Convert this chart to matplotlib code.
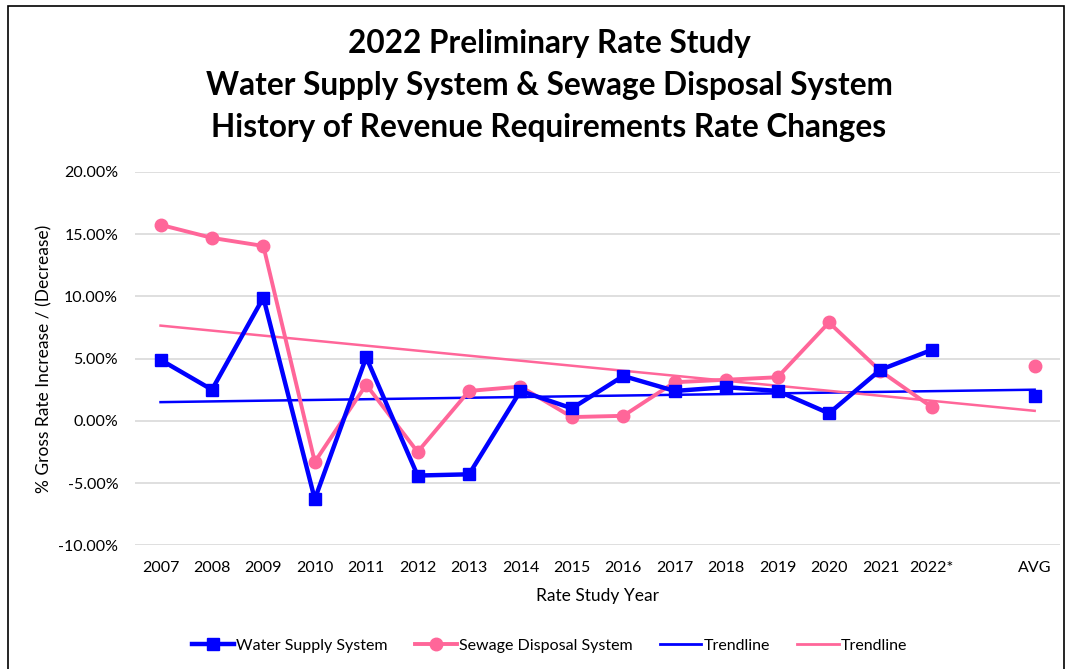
import numpy as np
import matplotlib.pyplot as plt
from matplotlib.patches import Rectangle

years = ["2007", "2008", "2009", "2010", "2011", "2012", "2013", "2014", "2015",
         "2016", "2017", "2018", "2019", "2020", "2021", "2022*", "", "AVG"]

# % change per rate study year (last two: blank slot, then average)
water = [4.9, 2.5, 9.9, -6.3, 5.1, -4.4, -4.3, 2.4, 1.0, 3.6, 2.4, 2.7, 2.4, 0.6, 4.1, 5.7]
water_avg = 2.0
sewage = [15.75, 14.7, 14.05, -3.3, 2.9, -2.5, 2.4, 2.75, 0.3, 0.4, 3.1, 3.3, 3.5, 7.9, 4.0, 1.1]
sewage_avg = 4.4

# trendline end values (first and last category)
water_trend = [1.5, 2.5]
sewage_trend = [7.65, 0.8]

blue = "#0000FF"
pink = "#FF6699"

plt.rcParams['font.family'] = ['Lato', 'DejaVu Sans']

fig = plt.figure(figsize=(10.7, 6.69), dpi=100)
ax = fig.add_axes([0.126, 0.185, 0.865, 0.558])

x = np.arange(len(years))
xw = x[:len(water)]

ax.plot([x[0], x[-1]], water_trend, color=blue, lw=1.8, zorder=2)
ax.plot([x[0], x[-1]], sewage_trend, color=pink, lw=1.8, zorder=2)

ax.plot(xw, sewage, color=pink, lw=2.8, marker="o", markersize=9, zorder=3)
ax.plot(x[-1], sewage_avg, color=pink, marker="o", markersize=9, ls="none", zorder=3)
ax.plot(xw, water, color=blue, lw=3.2, marker="s", markersize=8, zorder=4)
ax.plot(x[-1], water_avg, color=blue, marker="s", markersize=8, ls="none", zorder=4)

ax.set_xlim(-0.5, 17.5)
ax.set_ylim(-10, 20)
ax.set_yticks(np.arange(-10, 21, 5))
ax.set_yticklabels([f"{v:.2f}%" for v in np.arange(-10, 21, 5)], fontsize=11.5)
ax.set_xticks(x)
ax.set_xticklabels(years, fontsize=11.5)
ax.tick_params(axis="x", length=0, pad=11)
ax.tick_params(axis="y", length=0, pad=12)
ax.grid(axis="y", color="#D9D9D9", lw=1.2)
ax.set_axisbelow(True)
for s in ax.spines.values():
    s.set_visible(False)

ax.set_xlabel("Rate Study Year", fontsize=12.5, labelpad=10)
ax.set_ylabel("% Gross Rate Increase / (Decrease)", fontsize=12.5, labelpad=4)

titles = ["2022 Preliminary Rate Study",
          "Water Supply System & Sewage Disposal System",
          "History of Revenue Requirements Rate Changes"]
for i, t in enumerate(titles):
    fig.text(549 / 1070, 1 - (43 + 42 * i) / 669, t, ha="center", va="center",
             fontsize=22.7, fontweight="bold")

h1, = ax.plot([], [], color=blue, lw=3.2, marker="s", markersize=8)
h2, = ax.plot([], [], color=pink, lw=2.8, marker="o", markersize=9)
h3, = ax.plot([], [], color=blue, lw=2)
h4, = ax.plot([], [], color=pink, lw=2)
fig.legend([h1, h2, h3, h4],
           ["Water Supply System", "Sewage Disposal System", "Trendline", "Trendline"],
           loc="center", bbox_to_anchor=(550 / 1070, 1 - 646 / 669), ncol=4, frameon=False,
           fontsize=11.5, handlelength=2.6, handletextpad=0.15, columnspacing=1.7)

fig.add_artist(Rectangle((8 / 1070, -0.01), 1056 / 1070, 1 - 6 / 669 + 0.01,
                         transform=fig.transFigure, fill=False, ec="black", lw=1.2))

fig.savefig("out.png", dpi=100)
